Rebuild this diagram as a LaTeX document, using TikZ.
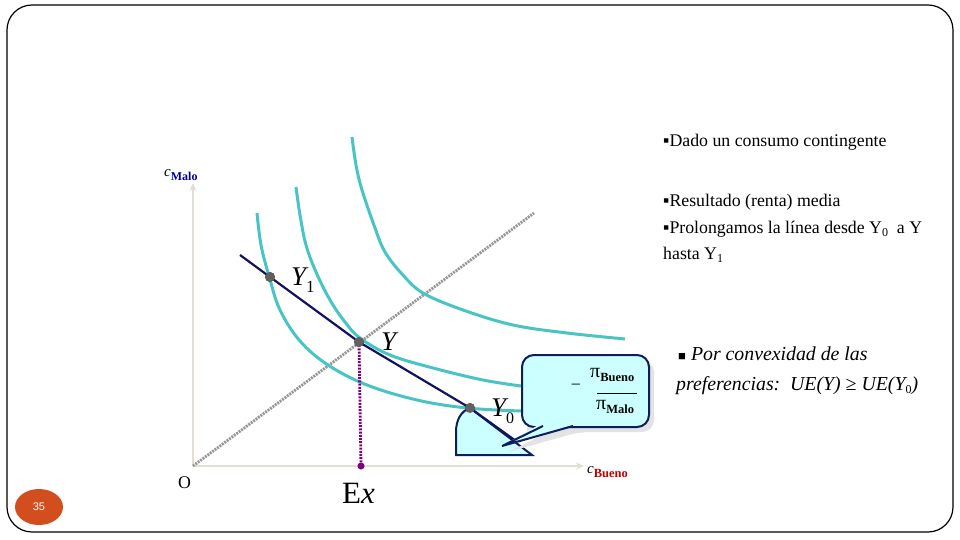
\documentclass[tikz,border=0pt]{standalone}
\usepackage{fontspec}
\setmainfont{Liberation Serif}
\newfontfamily\sansf{Liberation Sans}
\usetikzlibrary{arrows.meta,shapes.geometric}
\definecolor{pagecol}{RGB}{210,78,30}
\definecolor{teal}{RGB}{72,196,196}
\definecolor{navyline}{RGB}{18,18,96}
\definecolor{callfill}{RGB}{204,255,255}
\definecolor{callline}{RGB}{12,30,92}
\definecolor{axisgray}{RGB}{226,222,214}
\definecolor{diaggray}{RGB}{150,150,150}
\definecolor{dotgray}{RGB}{96,96,96}
\definecolor{purp}{RGB}{128,0,128}
\definecolor{lblue}{RGB}{0,0,160}
\definecolor{lred}{RGB}{192,0,0}
\newcommand\lowsub[3]{\raisebox{-#1pt}{\fontsize{#2}{#2}\selectfont #3}}
\begin{document}
\begin{tikzpicture}[x=1pt,y=-1pt,
  axis/.style={draw=axisgray,line width=2.8,-{Stealth[length=8,width=7]}},
  diag/.style={draw=diaggray,line width=2.8,dash pattern=on 2pt off 1pt},
  indiff/.style={draw=teal,line width=3},
  budget/.style={draw=navyline,line width=2.2},
  ptdot/.style={circle,fill=dotgray,minimum size=10,inner sep=0},
  bigl/.style={font=\fontsize{27}{30}\selectfont,inner sep=0},
  txt/.style={font=\fontsize{17.8}{20}\selectfont,inner sep=0},
  itxt/.style={font=\fontsize{19.8}{22}\selectfont\itshape,inner sep=0},
  callbox/.style={draw=callline,fill=callfill,line width=2,rounded corners=12}]
\useasboundingbox (0,0) rectangle (960,540);
\draw[line width=1.2,rounded corners=25] (7,5) rectangle (953,532);
\node[ellipse,fill=pagecol,minimum width=48,minimum height=36,inner sep=0,text=white,font=\sansf\fontsize{11}{13}\selectfont] (pg) at (39,507) {35};
% axes
\coordinate (O) at (193,466);
\coordinate (ytop) at (193,183);
\coordinate (xend) at (584,466);
\draw[axis] (O) -- (ytop);
\draw[axis] (O) -- (xend);
\coordinate (diagEnd) at (534,213);
\draw[diag] (O) -- (diagEnd);
% indifference curves
\draw[indiff] plot[smooth,tension=0.6] coordinates {(257,213) (261,245) (269,276) (280,310) (300,341) (328,365) (367,385) (417,400) (467,408) (521,411)};
\draw[indiff] plot[smooth,tension=0.6] coordinates {(296,187) (300,215) (306,245) (316,272) (330,300) (345,322) (360,338) (390,355) (433,368) (483,380) (521,386)};
\draw[indiff] plot[smooth,tension=0.6] coordinates {(352,137) (356,165) (362,190) (375,228) (385,252) (402,274) (423,293) (463,310) (513,325) (567,333) (625,339)};
% points
\node[ptdot] (Y1) at (270,277) {};
\node[ptdot] (Y) at (359,342) {};
\node[ptdot] (Y0) at (470,408) {};
\coordinate (Ex) at (361,466);
\draw[purp,line width=2.8,dash pattern=on 2pt off 1.2pt] (Y.center) -- (Ex);
\fill[purp] (Ex) circle (3.5);
% sector
\draw[callline,fill=callfill,line width=2] (456,455) -- (456,432) .. controls (456,420) and (461,411) .. (Y0.center) -- (532,455) -- cycle;
% budget line
\coordinate (bStart) at (240,255);
\coordinate (bEnd) at (516,441);
\draw[budget] (bStart) -- (Y1.center) -- (Y.center) -- (Y0.center) -- (bEnd);
\node[ptdot] at (Y1) {};
\node[ptdot] at (Y) {};
\node[ptdot] at (Y0) {};
% callout
\fill[gray!22] (527,360) [rounded corners=12] -- (654,360) -- (654,432) -- (579,432) [rounded corners=0] -- (508,452) -- (549,432) -- (527,432) -- cycle;
\node[callbox,minimum width=127,minimum height=72,anchor=north west,inner sep=0] (cb) at (521,354) {};
\fill[callfill] (540,424) -- (502,446) -- (576,424) -- cycle;
\draw[callline,line width=2,line join=miter] (543,426) -- (502,446) -- (573,426);
\node[txt,anchor=center] (minus) at (576,387) {−};
\node[anchor=base west,inner sep=0,font=\fontsize{20}{20}\selectfont] (num) at (590,377) {π\lowsub{4}{12.5}{\bfseries Bueno}};
\draw[line width=0.8] (597,393) -- (637,393);
\node[anchor=base west,inner sep=0,font=\fontsize{20}{20}\selectfont] (den) at (596,409) {π\lowsub{4}{12.5}{\bfseries Malo}};
% axis labels
\node[anchor=base west,inner sep=0,font=\fontsize{15}{18}\selectfont] (cM) at (164,176) {\itshape c\lowsub{4}{12}{\color{lblue}\upshape\bfseries Malo}};
\node[anchor=base west,inner sep=0,font=\fontsize{15}{18}\selectfont] (cB) at (587,473) {\itshape c\lowsub{4}{12.5}{\color{lred}\upshape\bfseries Bueno}};
\node[txt,anchor=base west] (Olab) at (178,488) {O};
\node[anchor=base west,inner sep=0,font=\fontsize{31}{34}\selectfont] (Exlab) at (342,503) {E\itshape x};
\node[bigl,anchor=base west] (lY1) at (291,285) {\itshape Y\lowsub{7}{17}{\upshape 1}};
\node[bigl,anchor=base west] (lY) at (381,350) {\itshape Y};
\node[bigl,anchor=base west] (lY0) at (491,416) {\itshape Y\lowsub{7}{16}{\upshape 0}};
% right texts
\node[txt,anchor=base west] (t1) at (663,147) {▪Dado un consumo contingente};
\node[txt,anchor=base west] (t2) at (663,206) {▪Resultado (renta) media};
\node[txt,anchor=base west] (t3) at (663,233) {▪Prolongamos la línea desde Y\lowsub{3}{12}{0}\ \ a Y};
\node[txt,anchor=base west] (t4) at (663,259) {hasta Y\lowsub{3}{12}{1}};
\node[itxt,anchor=base west] (t5) at (678,360) {{\upshape\fontsize{13}{13}\selectfont ■}\ Por convexidad de las};
\node[itxt,anchor=base west] (t6) at (676,390) {preferencias:\ \ UE(Y) ≥ UE(Y\lowsub{3}{12}{\upshape 0})};
\end{tikzpicture}
\end{document}
